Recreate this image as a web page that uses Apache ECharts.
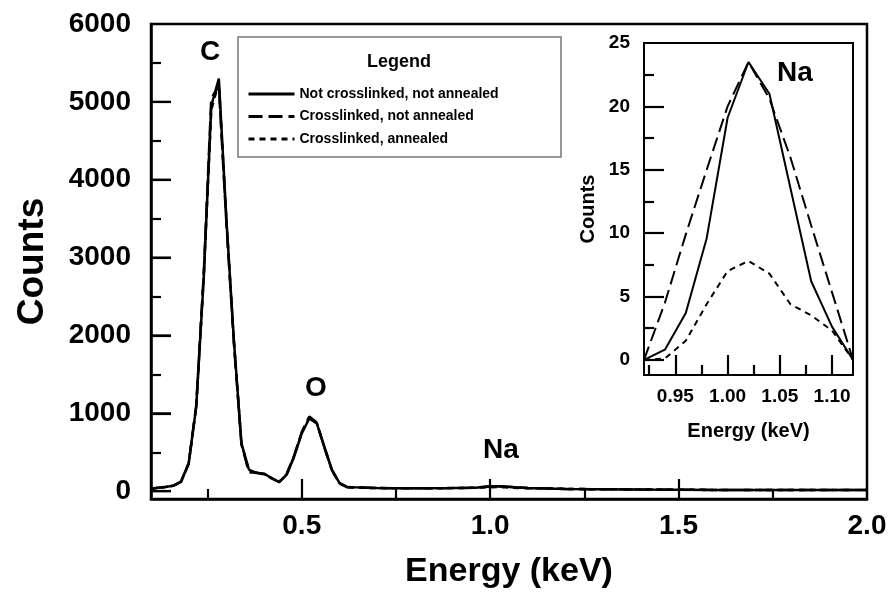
<!DOCTYPE html>
<html>
<head>
<meta charset="utf-8">
<script src="https://cdn.jsdelivr.net/npm/echarts@6/dist/echarts.min.js"></script>
<style>html,body{margin:0;padding:0;background:#fff;}#c{width:891px;height:594px;}</style>
</head>
<body>
<div id="c"></div>
<script>
// ---- main spectrum data ----
const energy = [0.10,0.12,0.14,0.16,0.18,0.20,0.22,0.24,0.26,0.28,0.30,0.32,0.34,0.36,0.38,0.40,0.42,0.44,0.46,0.48,0.50,0.52,0.54,0.56,0.58,0.60,0.62,0.64,0.70,0.80,0.90,0.96,1.00,1.02,1.04,1.10,1.20,1.30,1.40,1.50,1.60,1.70,1.80,1.90,2.00];
const notXlinked = [34,46,55,73,127,361,1083,2739,4950,5300,3500,1936,616,276,233,225,170,115,212,446,743,934,870,573,276,106,55,50,40,38,40,45,62,65,58,40,30,25,22,20,16,15,14,14,14];
const xlinkedNotAnn = [30,44,54,70,120,350,1100,2800,5050,5200,3450,1900,600,240,240,215,165,120,220,460,760,960,880,560,270,100,52,48,40,38,40,46,64,66,60,40,30,25,22,20,16,15,14,14,14];
const xlinkedAnn = [32,45,56,72,125,355,1090,2760,4900,5250,3480,1920,610,260,236,220,168,118,215,450,750,945,875,565,272,104,54,49,40,38,40,44,52,54,50,38,30,25,22,20,16,15,14,14,14];

// ---- inset (Na peak) data ----
const insetEnergy = [0.92,0.94,0.96,0.98,1.00,1.02,1.04,1.06,1.08,1.10,1.12];
const insetNotXlinked = [0,0.8,3.7,9.6,19.1,23.5,21.0,13.6,6.2,2.6,0];
const insetXlinkedNotAnn = [0,4.5,9.9,15.0,20.0,23.5,20.6,16.0,10.6,5.3,0];
const insetXlinkedAnn = [0,0.1,1.5,4.4,7.0,7.8,6.8,4.4,3.5,2.3,0];

// ---- tick values ----
const mainXLabels = [0.5,1.0,1.5,2.0];
const mainXMajor = [0.5,1.0,1.5];
const mainXMinor = [0.25,0.75,1.25,1.75];
const mainYLabels = [0,1000,2000,3000,4000,5000,6000];
const mainYMajor = [0,1000,2000,3000,4000,5000];
const mainYMinor = [500,1500,2500,3500,4500,5500];
const insetXLabels = [0.95,1.00,1.05,1.10];
const insetXMajor = [0.95,1.00,1.05,1.10];
const insetXMinor = [0.925,0.975,1.025,1.075];
const insetYLabels = [0,5,10,15,20,25];
const insetYMajor = [0,5,10,15,20];
const insetYMinor = [2.5,7.5,12.5,17.5,22.5];

const names = ['Not crosslinked, not annealed','Crosslinked, not annealed','Crosslinked, annealed'];
const types = ['solid',[14,6],[6,5]];
const FONT = '"Liberation Sans", Arial, sans-serif';

const pair = (xs, ys) => xs.map((x,i)=>[x, ys[i]]);
const chart = echarts.init(document.getElementById('c'));

function xLab(grid, min, max, labels, fs, dec, name, nameGap, nameFs, margin) {
  return {
    type:'value', gridIndex:grid, min:min, max:max, position:'bottom',
    axisLine:{show:true, onZero:false, lineStyle:{color:'#000', width: grid===0?2.5:2}},
    axisTick:{show:false},
    axisLabel:{show:true, customValues:labels, margin:margin, color:'#000', fontFamily:FONT, fontWeight:'bold', fontSize:fs,
      formatter:v=>Number(v).toFixed(dec)},
    splitLine:{show:false},
    name:name, nameLocation:'middle', nameGap:nameGap,
    nameTextStyle:{color:'#000', fontFamily:FONT, fontWeight:'bold', fontSize:nameFs}
  };
}
function tickAxis(kind, grid, min, max, ticks, len) {
  return {
    type:'value', gridIndex:grid, min:min, max:max, position: kind==='x'?'bottom':'left',
    axisLine:{show:false, onZero:false},
    axisTick:{show:true, inside:true, length:len, customValues:ticks, lineStyle:{color:'#000', width:2.2}},
    axisLabel:{show:false},
    splitLine:{show:false}
  };
}
function yLab(grid, min, max, labels, fs, name, nameGap, nameFs, margin) {
  return {
    type:'value', gridIndex:grid, min:min, max:max, position:'left',
    axisLine:{show:true, onZero:false, lineStyle:{color:'#000', width: grid===0?2.5:2}},
    axisTick:{show:false},
    axisLabel:{show:true, customValues:labels, margin:margin, color:'#000', fontFamily:FONT, fontWeight:'bold', fontSize:fs,
      formatter:v=>String(v)},
    splitLine:{show:false},
    name:name, nameLocation:'middle', nameGap:nameGap,
    nameTextStyle:{color:'#000', fontFamily:FONT, fontWeight:'bold', fontSize:nameFs}
  };
}

const mainSeries = [notXlinked, xlinkedNotAnn, xlinkedAnn];
const insetSeries = [insetNotXlinked, insetXlinkedNotAnn, insetXlinkedAnn];
const series = [];
[2,1,0].forEach(i=>{
  series.push({name:names[i], type:'line', xAxisIndex:0, yAxisIndex:0, data:pair(energy, mainSeries[i]),
    symbol:'none', lineStyle:{color:'#000', width:2.5, type:types[i]}, itemStyle:{color:'#000'}, silent:true, z:3});
});
[2,1,0].forEach(i=>{
  series.push({name:names[i], type:'line', xAxisIndex:3, yAxisIndex:3, data:pair(insetEnergy, insetSeries[i]),
    symbol:'none', lineStyle:{color:'#000', width:2, type:types[i]}, itemStyle:{color:'#000'}, silent:true, z:3});
});
// major ticks of the main y axis, placed through the axis scale
series.push({
  type:'custom', xAxisIndex:0, yAxisIndex:0, silent:true, clip:false, z:4,
  data: mainYMajor.map(v=>[0.1, v]),
  renderItem:(params, api)=>{
    const p = api.coord([api.value(0), api.value(1)]);
    return {type:'line', shape:{x1:p[0], y1:p[1], x2:p[0]+20, y2:p[1]}, style:{stroke:'#000', lineWidth:2.2}};
  }
});

chart.setOption({
  animation:false,
  backgroundColor:'#fff',
  grid:[
    {left:151, right:24, top:24, bottom:91, show:true, borderColor:'#000', borderWidth:2.5, backgroundColor:'transparent'},
    {left:644, right:38, top:43, bottom:219, show:true, borderColor:'#000', borderWidth:2, backgroundColor:'transparent'}
  ],
  xAxis:[
    xLab(0, 0.1, 2.0, mainXLabels, 28, 1, 'Energy (keV)', 56, 34, 13),
    tickAxis('x', 0, 0.1, 2.0, mainXMajor, 20),
    tickAxis('x', 0, 0.1, 2.0, mainXMinor, 10),
    xLab(1, 0.92, 1.12, insetXLabels, 19, 2, 'Energy (keV)', 46, 20, 12),
    tickAxis('x', 1, 0.92, 1.12, insetXMajor, 20),
    tickAxis('x', 1, 0.92, 1.12, insetXMinor, 10)
  ],
  yAxis:[
    yLab(0, -100, 6000, mainYLabels, 28, 'Counts', 100, 37, 20),
    tickAxis('y', 0, -100, 6000, mainYMajor, 20),
    tickAxis('y', 0, -100, 6000, mainYMinor, 10),
    yLab(1, -1.2, 25, insetYLabels, 19, 'Counts', 46, 20, 14),
    tickAxis('y', 1, -1.2, 25, insetYMajor, 20),
    tickAxis('y', 1, -1.2, 25, insetYMinor, 10)
  ],
  legend:{
    show:true, orient:'vertical', left:242, top:82, itemWidth:46, itemHeight:14, itemGap:8.5,
    data:names, selectedMode:false, z:20,
    itemStyle:{opacity:0},
    lineStyle:{width:3},
    textStyle:{color:'#000', fontFamily:FONT, fontWeight:'bold', fontSize:14}
  },
  graphic:[
    {type:'rect', z:10, shape:{x:238, y:37, width:323, height:120}, style:{fill:'#fff', stroke:'#777', lineWidth:1.5}},
    {type:'text', z:11, x:399, y:62, style:{text:'Legend', font:'bold 18px '+FONT, fill:'#000', textAlign:'center', textVerticalAlign:'middle'}},
    {type:'text', z:11, x:210, y:52, style:{text:'C', font:'bold 28px '+FONT, fill:'#000', textAlign:'center', textVerticalAlign:'middle'}},
    {type:'text', z:11, x:316, y:388, style:{text:'O', font:'bold 28px '+FONT, fill:'#000', textAlign:'center', textVerticalAlign:'middle'}},
    {type:'text', z:11, x:501, y:450, style:{text:'Na', font:'bold 28px '+FONT, fill:'#000', textAlign:'center', textVerticalAlign:'middle'}},
    {type:'text', z:11, x:795, y:73, style:{text:'Na', font:'bold 28px '+FONT, fill:'#000', textAlign:'center', textVerticalAlign:'middle'}}
  ],
  series:series
});
</script>
</body>
</html>
